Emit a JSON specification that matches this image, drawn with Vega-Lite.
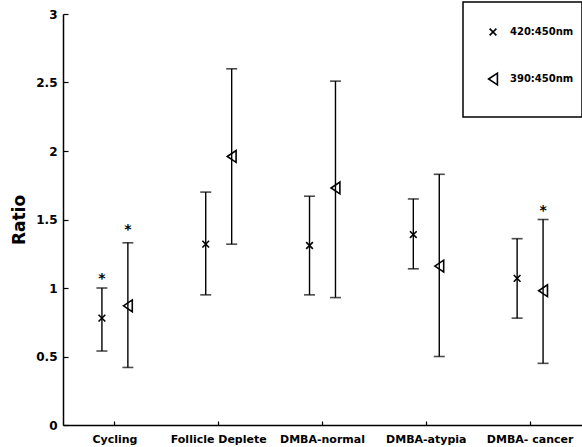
{
  "$schema": "https://vega.github.io/schema/vega-lite/v6.json",
  "width": 519,
  "height": 411,
  "autosize": "none",
  "padding": {"left": 63, "top": 14, "right": 0, "bottom": 22},
  "background": "white",
  "config": {
    "view": {"stroke": null},
    "axis": {
      "domainColor": "black", "domainWidth": 1.5, "tickColor": "black", "tickWidth": 1.2,
      "labelColor": "black", "labelFont": "DejaVu Sans", "labelFontWeight": "bold",
      "titleColor": "black", "titleFont": "DejaVu Sans", "titleFontWeight": "bold", "grid": false
    },
    "legend": {"strokeWidth": 1.5}
  },
  "data": {
    "values": [
      {"group": "Cycling", "series": "420:450nm", "mean": 0.78, "lo": 0.54, "hi": 1.0, "star": 1.095},
      {"group": "Cycling", "series": "390:450nm", "mean": 0.87, "lo": 0.42, "hi": 1.33, "star": 1.45},
      {"group": "Follicle Deplete", "series": "420:450nm", "mean": 1.32, "lo": 0.95, "hi": 1.70, "star": null},
      {"group": "Follicle Deplete", "series": "390:450nm", "mean": 1.96, "lo": 1.32, "hi": 2.60, "star": null},
      {"group": "DMBA-normal", "series": "420:450nm", "mean": 1.31, "lo": 0.95, "hi": 1.67, "star": null},
      {"group": "DMBA-normal", "series": "390:450nm", "mean": 1.73, "lo": 0.93, "hi": 2.51, "star": null},
      {"group": "DMBA-atypia", "series": "420:450nm", "mean": 1.39, "lo": 1.14, "hi": 1.65, "star": null},
      {"group": "DMBA-atypia", "series": "390:450nm", "mean": 1.16, "lo": 0.50, "hi": 1.83, "star": null},
      {"group": "DMBA- cancer", "series": "420:450nm", "mean": 1.07, "lo": 0.78, "hi": 1.36, "star": null},
      {"group": "DMBA- cancer", "series": "390:450nm", "mean": 0.98, "lo": 0.45, "hi": 1.50, "star": 1.59}
    ]
  },
  "encoding": {
    "x": {
      "field": "group", "type": "nominal", "sort": null,
      "scale": {"paddingInner": 0, "paddingOuter": 0},
      "axis": {"title": null, "labelAngle": 0, "labelFontSize": 11, "tickSize": -4, "labelPadding": 12}
    },
    "xOffset": {
      "field": "series", "type": "nominal",
      "scale": {"domain": ["420:450nm", "390:450nm"], "paddingInner": 0, "paddingOuter": 1}
    }
  },
  "layer": [
    {
      "mark": {"type": "rule", "color": "black", "strokeWidth": 1.4},
      "encoding": {
        "y": {
          "field": "lo", "type": "quantitative",
          "scale": {"domain": [0, 3], "nice": false, "zero": false},
          "axis": {"values": [0, 0.5, 1, 1.5, 2, 2.5, 3], "labelExpr": "'' + datum.value", "labelFontSize": 12, "tickSize": -5, "labelPadding": 11, "title": "Ratio", "titleFontSize": 17, "titlePadding": 7}
        },
        "y2": {"field": "hi"}
      }
    },
    {
      "mark": {"type": "tick", "color": "black", "size": 11, "thickness": 1.6},
      "encoding": {"y": {"field": "hi", "type": "quantitative"}}
    },
    {
      "mark": {"type": "tick", "color": "black", "size": 11, "thickness": 1.6},
      "encoding": {"y": {"field": "lo", "type": "quantitative"}}
    },
    {
      "mark": {"type": "point", "filled": false, "color": "black", "strokeWidth": 1.6, "size": 1764, "opacity": 1},
      "encoding": {
        "y": {"field": "mean", "type": "quantitative"},
        "shape": {
          "field": "series", "type": "nominal",
          "scale": {
            "domain": ["420:450nm", "390:450nm"],
            "range": ["M-0.16,-0.16L0.16,0.16M-0.16,0.16L0.16,-0.16", "M-0.21,0L0.21,-0.28L0.21,0.28Z"]
          },
          "legend": {
            "orient": "none", "legendX": 400, "legendY": -12, "title": " ", "titleOrient": "bottom", "titleFontSize": 12, "titlePadding": 10,
            "strokeColor": "black", "fillColor": "white", "padding": 8, "rowPadding": 18,
            "symbolSize": 1764, "symbolStrokeColor": "black", "symbolStrokeWidth": 1.6,
            "labelFont": "DejaVu Sans", "labelFontWeight": "bold", "labelFontSize": 10, "labelColor": "black", "labelOffset": -5
          }
        }
      }
    },
    {
      "transform": [{"filter": "datum.star != null"}],
      "mark": {"type": "text", "text": "*", "font": "DejaVu Sans", "fontWeight": "bold", "fontSize": 14, "baseline": "alphabetic", "dy": 8, "color": "black"},
      "encoding": {"y": {"field": "star", "type": "quantitative"}}
    }
  ]
}
